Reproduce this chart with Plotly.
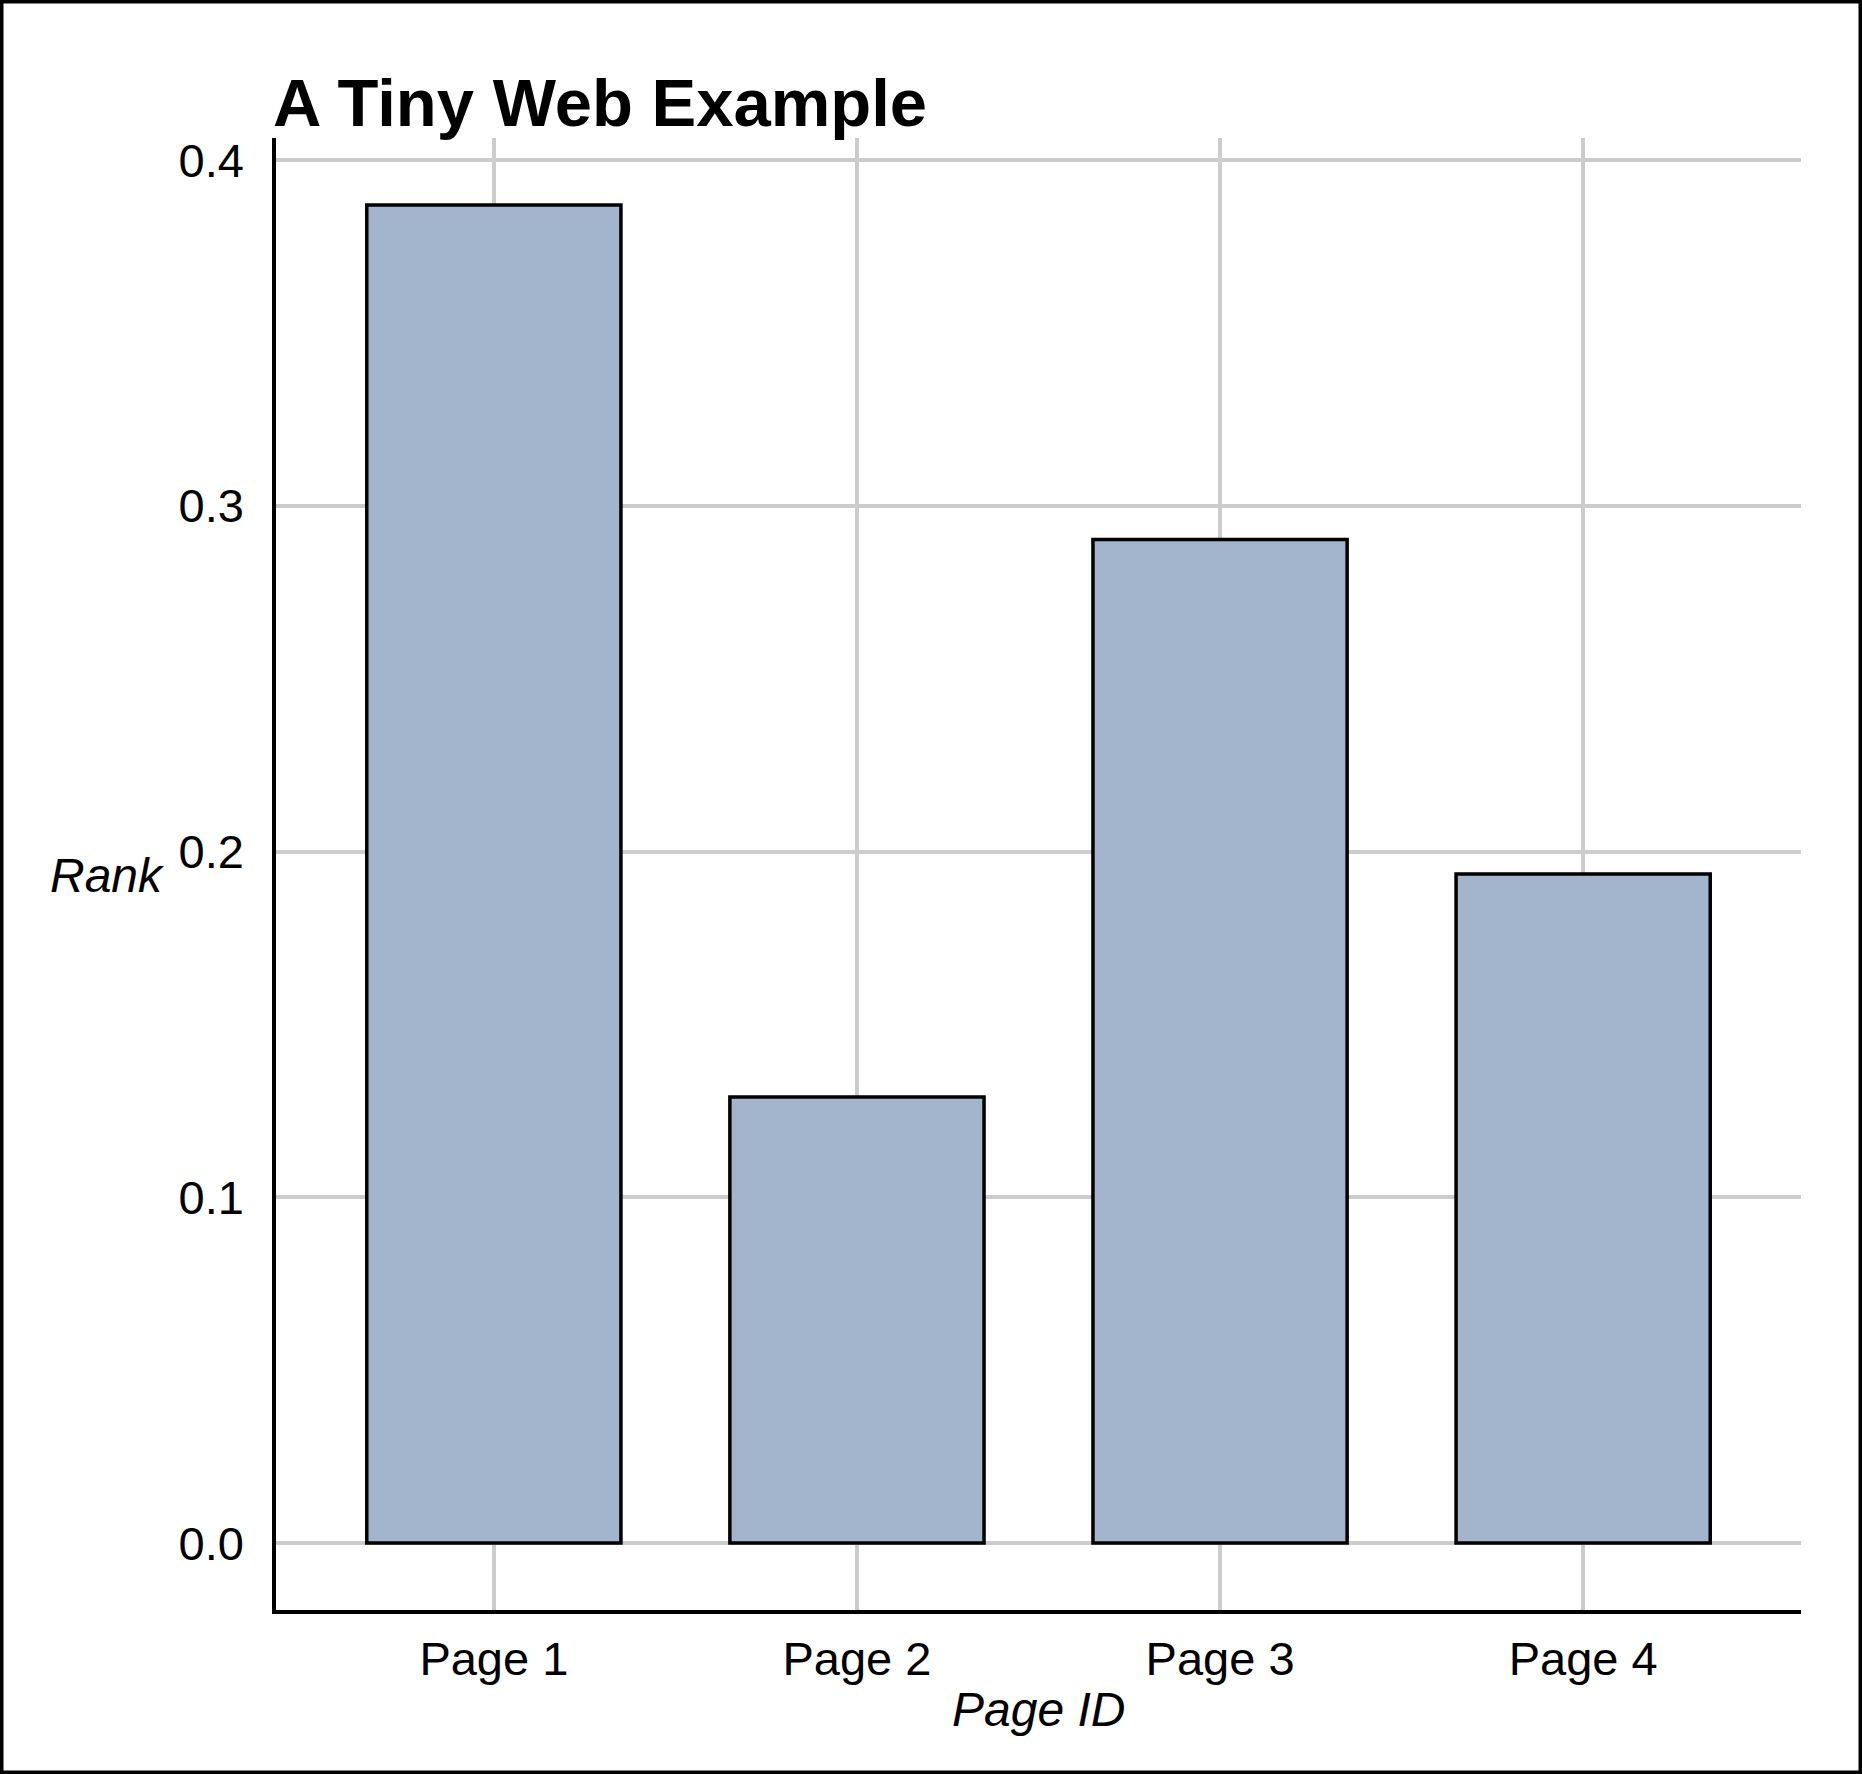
import plotly.graph_objects as go

pages = ["Page 1", "Page 2", "Page 3", "Page 4"]
ranks = [12/31, 4/31, 9/31, 6/31]
y_ticks = [0.0, 0.1, 0.2, 0.3, 0.4]
y_tick_labels = ["0.0", "0.1", "0.2", "0.3", "0.4"]

W, H = 1862, 1774
ml, mr, mt, mb = 276, 61, 138, 164
pw, ph = W - ml - mr, H - mt - mb

FONT = "Liberation Sans, Arial, sans-serif"
BAR_COLOR = "#A2B5CD"
GRID = "#cccccc"

fig = go.Figure()
fig.add_trace(go.Bar(
    x=list(range(len(pages))), y=ranks, width=0.7,
    marker=dict(color=BAR_COLOR, line=dict(color="black", width=3.5)),
    hoverinfo="x+y",
))

pad = max(ranks) * 0.05
fig.update_layout(
    width=W, height=H,
    margin=dict(l=ml, r=mr, t=mt, b=mb, pad=0),
    paper_bgcolor="white", plot_bgcolor="white",
    showlegend=False,
    font=dict(family=FONT, size=47, color="black"),
    xaxis=dict(
        range=[-0.6, len(pages) - 0.4],
        tickmode="array", tickvals=list(range(len(pages))), ticktext=pages,
        showgrid=True, gridcolor=GRID, gridwidth=3.5,
        showline=True, linecolor="black", linewidth=3.5,
        ticks="outside", ticklen=5, tickcolor="rgba(0,0,0,0)",
        zeroline=False, tickfont=dict(size=47, family=FONT, color="black"),
    ),
    yaxis=dict(
        range=[-pad, max(ranks) + pad],
        tickmode="array", tickvals=y_ticks, ticktext=y_tick_labels,
        showgrid=True, gridcolor=GRID, gridwidth=3.5,
        showline=True, linecolor="black", linewidth=3.5,
        ticks="outside", ticklen=19, tickcolor="rgba(0,0,0,0)",
        zeroline=False, tickfont=dict(size=47, family=FONT, color="black"),
    ),
    annotations=[
        dict(text="<b>A Tiny Web Example</b>", xref="paper", yref="paper",
             x=-5 / pw, y=(ph + mt - 102) / ph, xanchor="left", yanchor="middle",
             showarrow=False, font=dict(size=67, family=FONT, color="black")),
        dict(text="<i>Rank</i>", xref="paper", yref="paper",
             x=(167 - ml) / pw, y=0.5 - 2 / ph, xanchor="right", yanchor="middle",
             showarrow=False, font=dict(size=48, family=FONT, color="black")),
        dict(text="<i>Page ID</i>", xref="paper", yref="paper",
             x=0.5, y=(mt + ph - 1709) / ph, xanchor="center", yanchor="middle",
             showarrow=False, font=dict(size=48, family=FONT, color="black")),
    ],
)

lw = 3.5
fig.add_shape(type="rect", xref="paper", yref="paper",
              x0=(-ml + lw / 2) / pw, x1=(pw + mr - lw / 2) / pw,
              y0=(-mb + lw / 2) / ph, y1=(ph + mt - lw / 2) / ph,
              line=dict(color="black", width=lw), fillcolor="rgba(0,0,0,0)",
              layer="above")

fig.write_html("out.html",
               config={"displayModeBar": False},
               post_script="document.body.style.margin='0';document.body.style.overflow='hidden';")
